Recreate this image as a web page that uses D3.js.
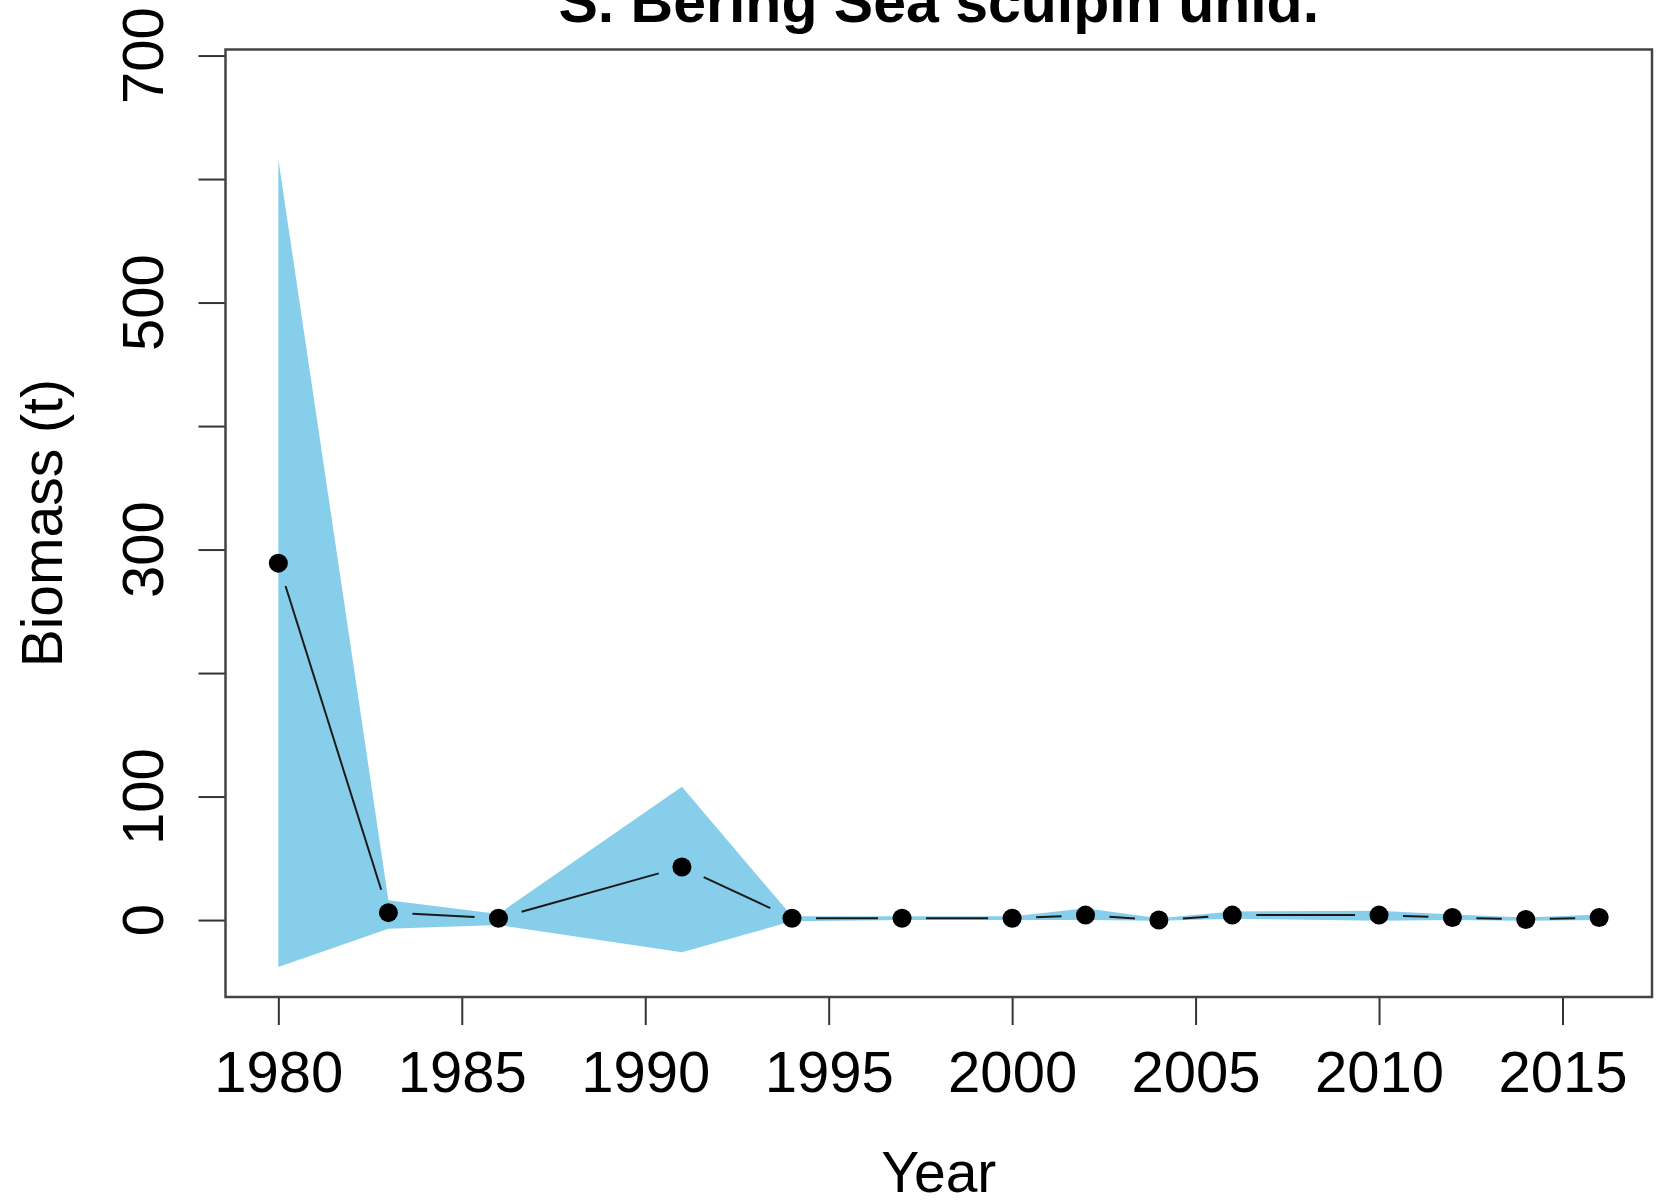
<!DOCTYPE html>
<html>
<head>
<meta charset="utf-8">
<script src="https://cdn.jsdelivr.net/npm/d3@7"></script>
<style>
  html, body { margin: 0; padding: 0; background: #fff; }
  svg { display: block; }
  text { font-family: "Liberation Sans", Arial, Helvetica, sans-serif; fill: #000; }
</style>
</head>
<body>
<svg id="chart" width="1658" height="1201"></svg>
<script>
// Survey biomass estimate (t) with confidence band, by survey year
const years   = [1980, 1983, 1986, 1991, 1994, 1997, 2000, 2002, 2004, 2006, 2010, 2012, 2014, 2016];
const biomass = [289, 6, 1.5, 43, 1.5, 1.5, 1.5, 4, 0, 4, 4, 2, 0.5, 2];
const lower   = [-38, -7, -4, -26, -1, 0, 0, 0, -0.5, 1, -0.5, 0, -0.5, 0];
const upper   = [616, 16, 5, 108, 3, 3, 3, 9.5, 1.5, 7, 7.5, 4.5, 2, 4.5];

const xTicks = [1980, 1985, 1990, 1995, 2000, 2005, 2010, 2015];
const yTicks = [0, 100, 200, 300, 400, 500, 600, 700];
const yTickLabels = ["0", "100", "", "300", "", "500", "", "700"];

const titleText = "S. Bering Sea sculpin unid.";
const xTitle = "Year";
const yTitle = "Biomass (t)";

const rows = years.map((y, i) => ({ year: y, value: biomass[i], lo: lower[i], hi: upper[i] }));

const svg = d3.select("#chart");
const plot = { left: 225.5, right: 1652, top: 49.5, bottom: 997 };

const x = d3.scaleLinear().domain([1978.56, 2017.44]).range([plot.left, plot.right]);
const y = d3.scaleLinear().domain([-62.3, 704.9]).range([plot.bottom, plot.top]);

// confidence band
const area = d3.area()
  .x(d => x(d.year))
  .y0(d => y(d.lo))
  .y1(d => y(d.hi));
svg.append("path")
  .datum(rows)
  .attr("d", area)
  .attr("fill", "#87CEEB");

// connecting line broken around each point
const gap = 24;
const segs = [];
for (let i = 0; i < rows.length - 1; i++) {
  const x0 = x(rows[i].year), y0 = y(rows[i].value);
  const x1 = x(rows[i + 1].year), y1 = y(rows[i + 1].value);
  const len = Math.hypot(x1 - x0, y1 - y0);
  if (len <= 2 * gap) continue;
  const ux = (x1 - x0) / len, uy = (y1 - y0) / len;
  segs.push({ x1: x0 + ux * gap, y1: y0 + uy * gap, x2: x1 - ux * gap, y2: y1 - uy * gap });
}
svg.append("g").selectAll("line")
  .data(segs)
  .join("line")
  .attr("x1", d => d.x1).attr("y1", d => d.y1)
  .attr("x2", d => d.x2).attr("y2", d => d.y2)
  .attr("stroke", "#1a1a1a")
  .attr("stroke-width", 2);

// points
svg.append("g").selectAll("circle")
  .data(rows)
  .join("circle")
  .attr("cx", d => x(d.year))
  .attr("cy", d => y(d.value))
  .attr("r", 9.5)
  .attr("fill", "#000");

// x axis
const xAxis = svg.append("g")
  .attr("transform", `translate(0,${plot.bottom})`)
  .call(d3.axisBottom(x).tickValues(xTicks).tickFormat(d3.format("d")).tickSize(28).tickSizeOuter(0));
xAxis.select(".domain").remove();
xAxis.selectAll(".tick line").attr("stroke", "#333").attr("stroke-width", 2);
xAxis.selectAll(".tick text")
  .attr("y", 95).attr("dy", 0)
  .style("font-size", "58px")
  .style("font-family", "'Liberation Sans', Arial, Helvetica, sans-serif")
  .attr("fill", "#000");

// y axis
const yAxis = svg.append("g")
  .attr("transform", `translate(${plot.left},0)`)
  .call(d3.axisLeft(y).tickValues(yTicks).tickFormat("").tickSize(27).tickSizeOuter(0));
yAxis.select(".domain").remove();
yAxis.selectAll(".tick line").attr("stroke", "#333").attr("stroke-width", 2);
svg.append("g").selectAll("text")
  .data(yTicks)
  .join("text")
  .attr("transform", (d) => `translate(163,${y(d)}) rotate(-90)`)
  .attr("text-anchor", "middle")
  .style("font-size", "58px")
  .text((d, i) => yTickLabels[i]);

// frame
svg.append("rect")
  .attr("x", plot.left).attr("y", plot.top)
  .attr("width", plot.right - plot.left).attr("height", plot.bottom - plot.top)
  .attr("fill", "none")
  .attr("stroke", "#444")
  .attr("stroke-width", 2.5);

// titles
svg.append("text")
  .attr("x", (plot.left + plot.right) / 2).attr("y", 22)
  .attr("text-anchor", "middle")
  .style("font-size", "59px").style("font-weight", "bold")
  .text(titleText);

svg.append("text")
  .attr("x", (plot.left + plot.right) / 2).attr("y", 1192)
  .attr("text-anchor", "middle")
  .style("font-size", "57px")
  .text(xTitle);

svg.append("text")
  .attr("transform", `translate(62,${(plot.top + plot.bottom) / 2}) rotate(-90)`)
  .attr("text-anchor", "middle")
  .style("font-size", "57px")
  .text(yTitle);
</script>
</body>
</html>
